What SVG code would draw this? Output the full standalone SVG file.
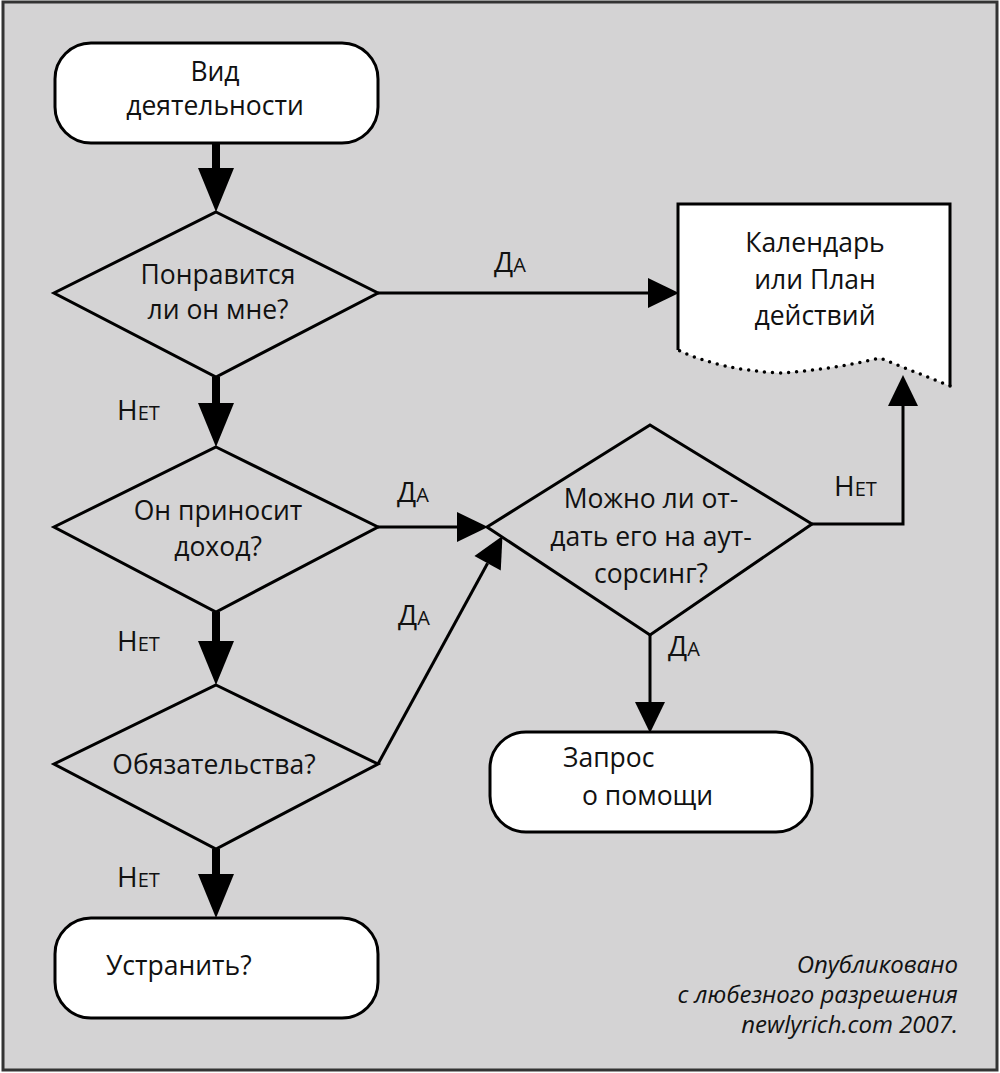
<svg xmlns="http://www.w3.org/2000/svg" width="1000" height="1073" viewBox="0 0 1000 1073">
<style>
.bg{fill:#d4d3d4;stroke:#333;stroke-width:3}
.box{fill:#fff;stroke:#000;stroke-width:3}
.dia{fill:none;stroke:#000;stroke-width:3;stroke-linejoin:miter}
.t{font-family:"Open Sans","Noto Sans","DejaVu Sans",sans-serif;font-size:26.5px;fill:#111;text-anchor:middle}
.l{font-family:"Open Sans","Noto Sans","DejaVu Sans",sans-serif;font-size:28px;fill:#111;font-variant:small-caps}
.n{font-family:"Open Sans","Noto Sans","DejaVu Sans",sans-serif;font-size:24px;fill:#111;font-style:italic;text-anchor:end}
.thick{stroke:#000;stroke-width:8;fill:none}
.thin{stroke:#000;stroke-width:3;fill:none}
</style>
<defs>
<marker id="ah" markerUnits="userSpaceOnUse" markerWidth="46" markerHeight="36" refX="0" refY="18" orient="auto" overflow="visible"><path d="M0,0 L44,18 L0,36 z" fill="#000"/></marker>
<marker id="as" markerUnits="userSpaceOnUse" markerWidth="32" markerHeight="30" refX="0" refY="15" orient="auto" overflow="visible"><path d="M0,0 L31,15 L0,30 z" fill="#000"/></marker>
</defs>
<rect class="bg" x="3" y="2" width="994" height="1068"/>

<g id="connectors">
<line class="thick" x1="216" y1="143" x2="216" y2="168" marker-end="url(#ah)"/>
<line class="thick" x1="216" y1="377" x2="216" y2="403" marker-end="url(#ah)"/>
<line class="thick" x1="216" y1="612" x2="216" y2="641" marker-end="url(#ah)"/>
<line class="thick" x1="216" y1="849" x2="216" y2="874" marker-end="url(#ah)"/>
<line class="thin" x1="378" y1="293" x2="648" y2="293" marker-end="url(#as)"/>
<line class="thin" x1="378" y1="527" x2="457" y2="527" marker-end="url(#as)"/>
<line class="thin" x1="378" y1="764" x2="487.6" y2="563.3" marker-end="url(#as)"/>
<path class="thin" d="M812,524 H903 V406" marker-end="url(#as)"/>
<line class="thin" x1="650" y1="635" x2="650" y2="702" marker-end="url(#as)"/>
<text class="l" x="494" y="272">Да</text>
<text class="l" x="117" y="420">Нет</text>
<text class="l" x="397" y="502">Да</text>
<text class="l" x="117" y="651">Нет</text>
<text class="l" x="398" y="625">Да</text>
<text class="l" x="117" y="887">Нет</text>
<text class="l" x="834" y="496">Нет</text>
<text class="l" x="668" y="656">Да</text>
</g>

<g id="start">
<rect class="box" x="55" y="43" width="323" height="100" rx="36"/>
<text class="t" x="215" y="81">Вид</text>
<text class="t" x="215" y="115">деятельности</text>
</g>

<g id="q1">
<polygon class="dia" points="216,212 378,293 216,377 54,293"/>
<text class="t" x="218" y="284">Понравится</text>
<text class="t" x="218" y="319">ли он мне?</text>
</g>

<g id="q2">
<polygon class="dia" points="216,447 378,527 216,612 54,527"/>
<text class="t" x="218" y="520">Он приносит</text>
<text class="t" x="218" y="556">доход?</text>
</g>

<g id="q3">
<polygon class="dia" points="216,685 378,764 216,849 54,764"/>
<text class="t" x="214" y="774">Обязательства?</text>
</g>

<g id="eliminate">
<rect class="box" x="55" y="918" width="323" height="100" rx="36"/>
<text class="t" x="106" y="975" style="text-anchor:start">Устранить?</text>
</g>

<g id="calendar">
<path d="M678,350 V204 H950 V386 L880,358 Q830,370 780,373 Q720,370 678,350 z" fill="#fff"/>
<path class="thin" d="M678,350 V204 H950 V386"/>
<path d="M950,386 L880,358 Q830,370 780,373 Q720,370 678,350" fill="none" stroke="#000" stroke-width="3.5" stroke-linecap="round" stroke-dasharray="0 8"/>
<text class="t" x="815" y="252">Календарь</text>
<text class="t" x="815" y="289">или План</text>
<text class="t" x="815" y="325">действий</text>
</g>

<g id="q4">
<polygon class="dia" points="650,425 812,524 650,635 487,527"/>
<text class="t" x="651" y="508">Можно ли от-</text>
<text class="t" x="651" y="546">дать его на аут-</text>
<text class="t" x="651" y="583">сорсинг?</text>
</g>

<g id="help">
<rect class="box" x="490" y="732" width="322" height="100" rx="36"/>
<text class="t" x="563" y="767" style="text-anchor:start">Запрос</text>
<text class="t" x="582" y="805" style="text-anchor:start">о помощи</text>
</g>

<g id="credit">
<text class="n" x="958" y="973">Опубликовано</text>
<text class="n" x="958" y="1003">с любезного разрешения</text>
<text class="n" x="958" y="1033">newlyrich.com 2007.</text>
</g>
</svg>
